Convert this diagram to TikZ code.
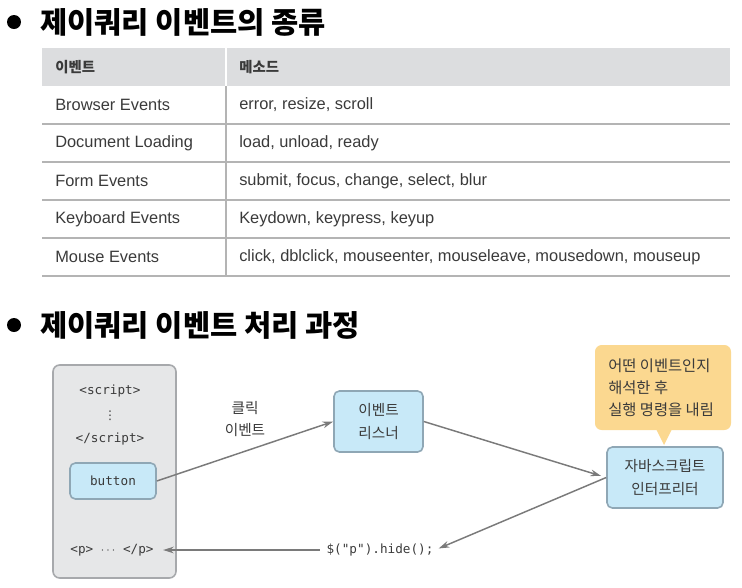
\documentclass[tikz,border=0pt]{standalone}
\usepackage{fontspec}
\setmainfont{Liberation Sans}
\setmonofont{DejaVu Sans Mono}
\newfontfamily\krfont{Noto Sans CJK KR}
\newfontfamily\symfont{DejaVu Sans}
\usetikzlibrary{arrows.meta}

\definecolor{txtgray}{HTML}{3A3A3A}
\definecolor{headfill}{HTML}{DCDDDF}
\definecolor{rulegray}{HTML}{B4B4B4}
\definecolor{panelfill}{HTML}{E6E7E8}
\definecolor{panelline}{HTML}{A7A9AC}
\definecolor{bluefill}{HTML}{C8E9F8}
\definecolor{blueline}{HTML}{8FA7B5}
\definecolor{notefill}{HTML}{FBD890}
\definecolor{arrgray}{HTML}{7A7A7A}

\def\px{0.75pt}

\tikzset{
  title/.style={anchor=west, inner sep=0pt, font=\krfont\bfseries\fontsize{22.2}{26}\selectfont},
  cell/.style={anchor=west, inner sep=0pt, text=txtgray, font=\fontsize{12.3}{14}\selectfont},
  headcell/.style={anchor=west, inner sep=0pt, text=txtgray, font=\krfont\bfseries\fontsize{10.8}{13}\selectfont},
  codetext/.style={inner sep=1pt, text=txtgray, font=\ttfamily\fontsize{9.5}{12}\selectfont},
  kortext/.style={align=center, inner sep=0pt, text=txtgray, font=\krfont\fontsize{11}{17}\selectfont},
  bluebox/.style={draw=blueline, fill=bluefill, line width=1.2pt, rounded corners=4pt,
    align=center, inner sep=0pt, text=txtgray},
  arr/.style={draw=arrgray, line width=1.1pt, -{Stealth[length=8pt,width=5pt]}},
}

\begin{document}
\begin{tikzpicture}[x=0.75pt, y=-0.75pt]
  \useasboundingbox (0,0) rectangle (742,587);

  % first title
  \fill (14,22) circle (7);
  \node[title] (title1) at (40,22) {제이쿼리 이벤트의 종류};

  % table
  \fill[headfill] (42,48) rectangle (730,86);
  \draw[white, line width=1.5pt] (226,48) -- (226,86);
  \draw[rulegray, line width=0.9pt] (226,86) -- (226,276);
  \foreach \y in {124,162,200,238,276}
    \draw[rulegray, line width=0.9pt] (42,\y) -- (730,\y);

  \node[headcell] (hevent)  at (55,67)  {이벤트};
  \node[headcell] (hmethod) at (239,67) {메소드};

  \node[cell] (ev1) at (55,105) {Browser Events};
  \node[cell] (ev2) at (55,143) {Document Loading};
  \node[cell] (ev3) at (55,181) {Form Events};
  \node[cell] (ev4) at (55,219) {Keyboard Events};
  \node[cell] (ev5) at (55,257) {Mouse Events};

  \node[cell] (me1) at (239,105) {error, resize, scroll};
  \node[cell] (me2) at (239,143) {load, unload, ready};
  \node[cell] (me3) at (239,181) {submit, focus, change, select, blur};
  \node[cell] (me4) at (239,219) {Keydown, keypress, keyup};
  \node[cell] (me5) at (239,257) {click, dblclick, mouseenter, mouseleave, mousedown, mouseup};

  % second title
  \fill (14,325) circle (7);
  \node[title] (title2) at (40,325) {제이쿼리 이벤트 처리 과정};

  % html page
  \node[draw=panelline, fill=panelfill, line width=1.2pt, rounded corners=5pt,
    minimum width=123*\px, minimum height=213*\px] (page) at (114.5,471.5) {};
  \node[codetext] (open)  at (110,391) {<script>};
  \node[codetext, inner sep=0pt, font=\symfont\fontsize{9}{9}\selectfont] (dots) at (110,416) {⋮};
  \node[codetext] (close) at (110,439) {</script>};
  \node[bluebox, font=\ttfamily\fontsize{9.5}{12}\selectfont,
    minimum width=86*\px, minimum height=36*\px] (button) at (113,481) {button};
  \node[codetext] (ptag) at (112,550) {<p> $\cdots$ </p>};

  % listener and interpreter
  \node[bluebox, font=\krfont\fontsize{11}{17}\selectfont,
    minimum width=89*\px, minimum height=61*\px] (listener) at (378.5,421.5) {이벤트\\리스너};
  \node[bluebox, font=\krfont\fontsize{11}{17}\selectfont,
    minimum width=116*\px, minimum height=61*\px] (interp) at (665,477.5) {자바스크립트\\인터프리터};

  % note
  \node[fill=notefill, rounded corners=5pt, minimum width=136*\px, minimum height=85*\px]
    (note) at (663,387.5) {};
  \fill[notefill] (656,429) -- (664,445) -- (672,429) -- cycle;
  \node[kortext, align=left, anchor=west, font=\krfont\fontsize{11.5}{16.5}\selectfont]
    (notetext) at (608,388) {어떤 이벤트인지\\해석한 후\\실행 명령을 내림};

  \node[kortext] (click) at (245,419) {클릭\\이벤트};
  \node[codetext] (hide) at (380,550) {\$("p").hide();};

  \draw[arr] (button.east) -- (listener.west);
  \draw[arr, shorten >=4pt] (listener.east) -- (interp.west);
  \draw[arr, shorten >=3pt] (interp.west) -- (hide.east);
  \draw[arr, shorten <=4pt, shorten >=6pt] (hide.west) -- (ptag.east);
\end{tikzpicture}
\end{document}
